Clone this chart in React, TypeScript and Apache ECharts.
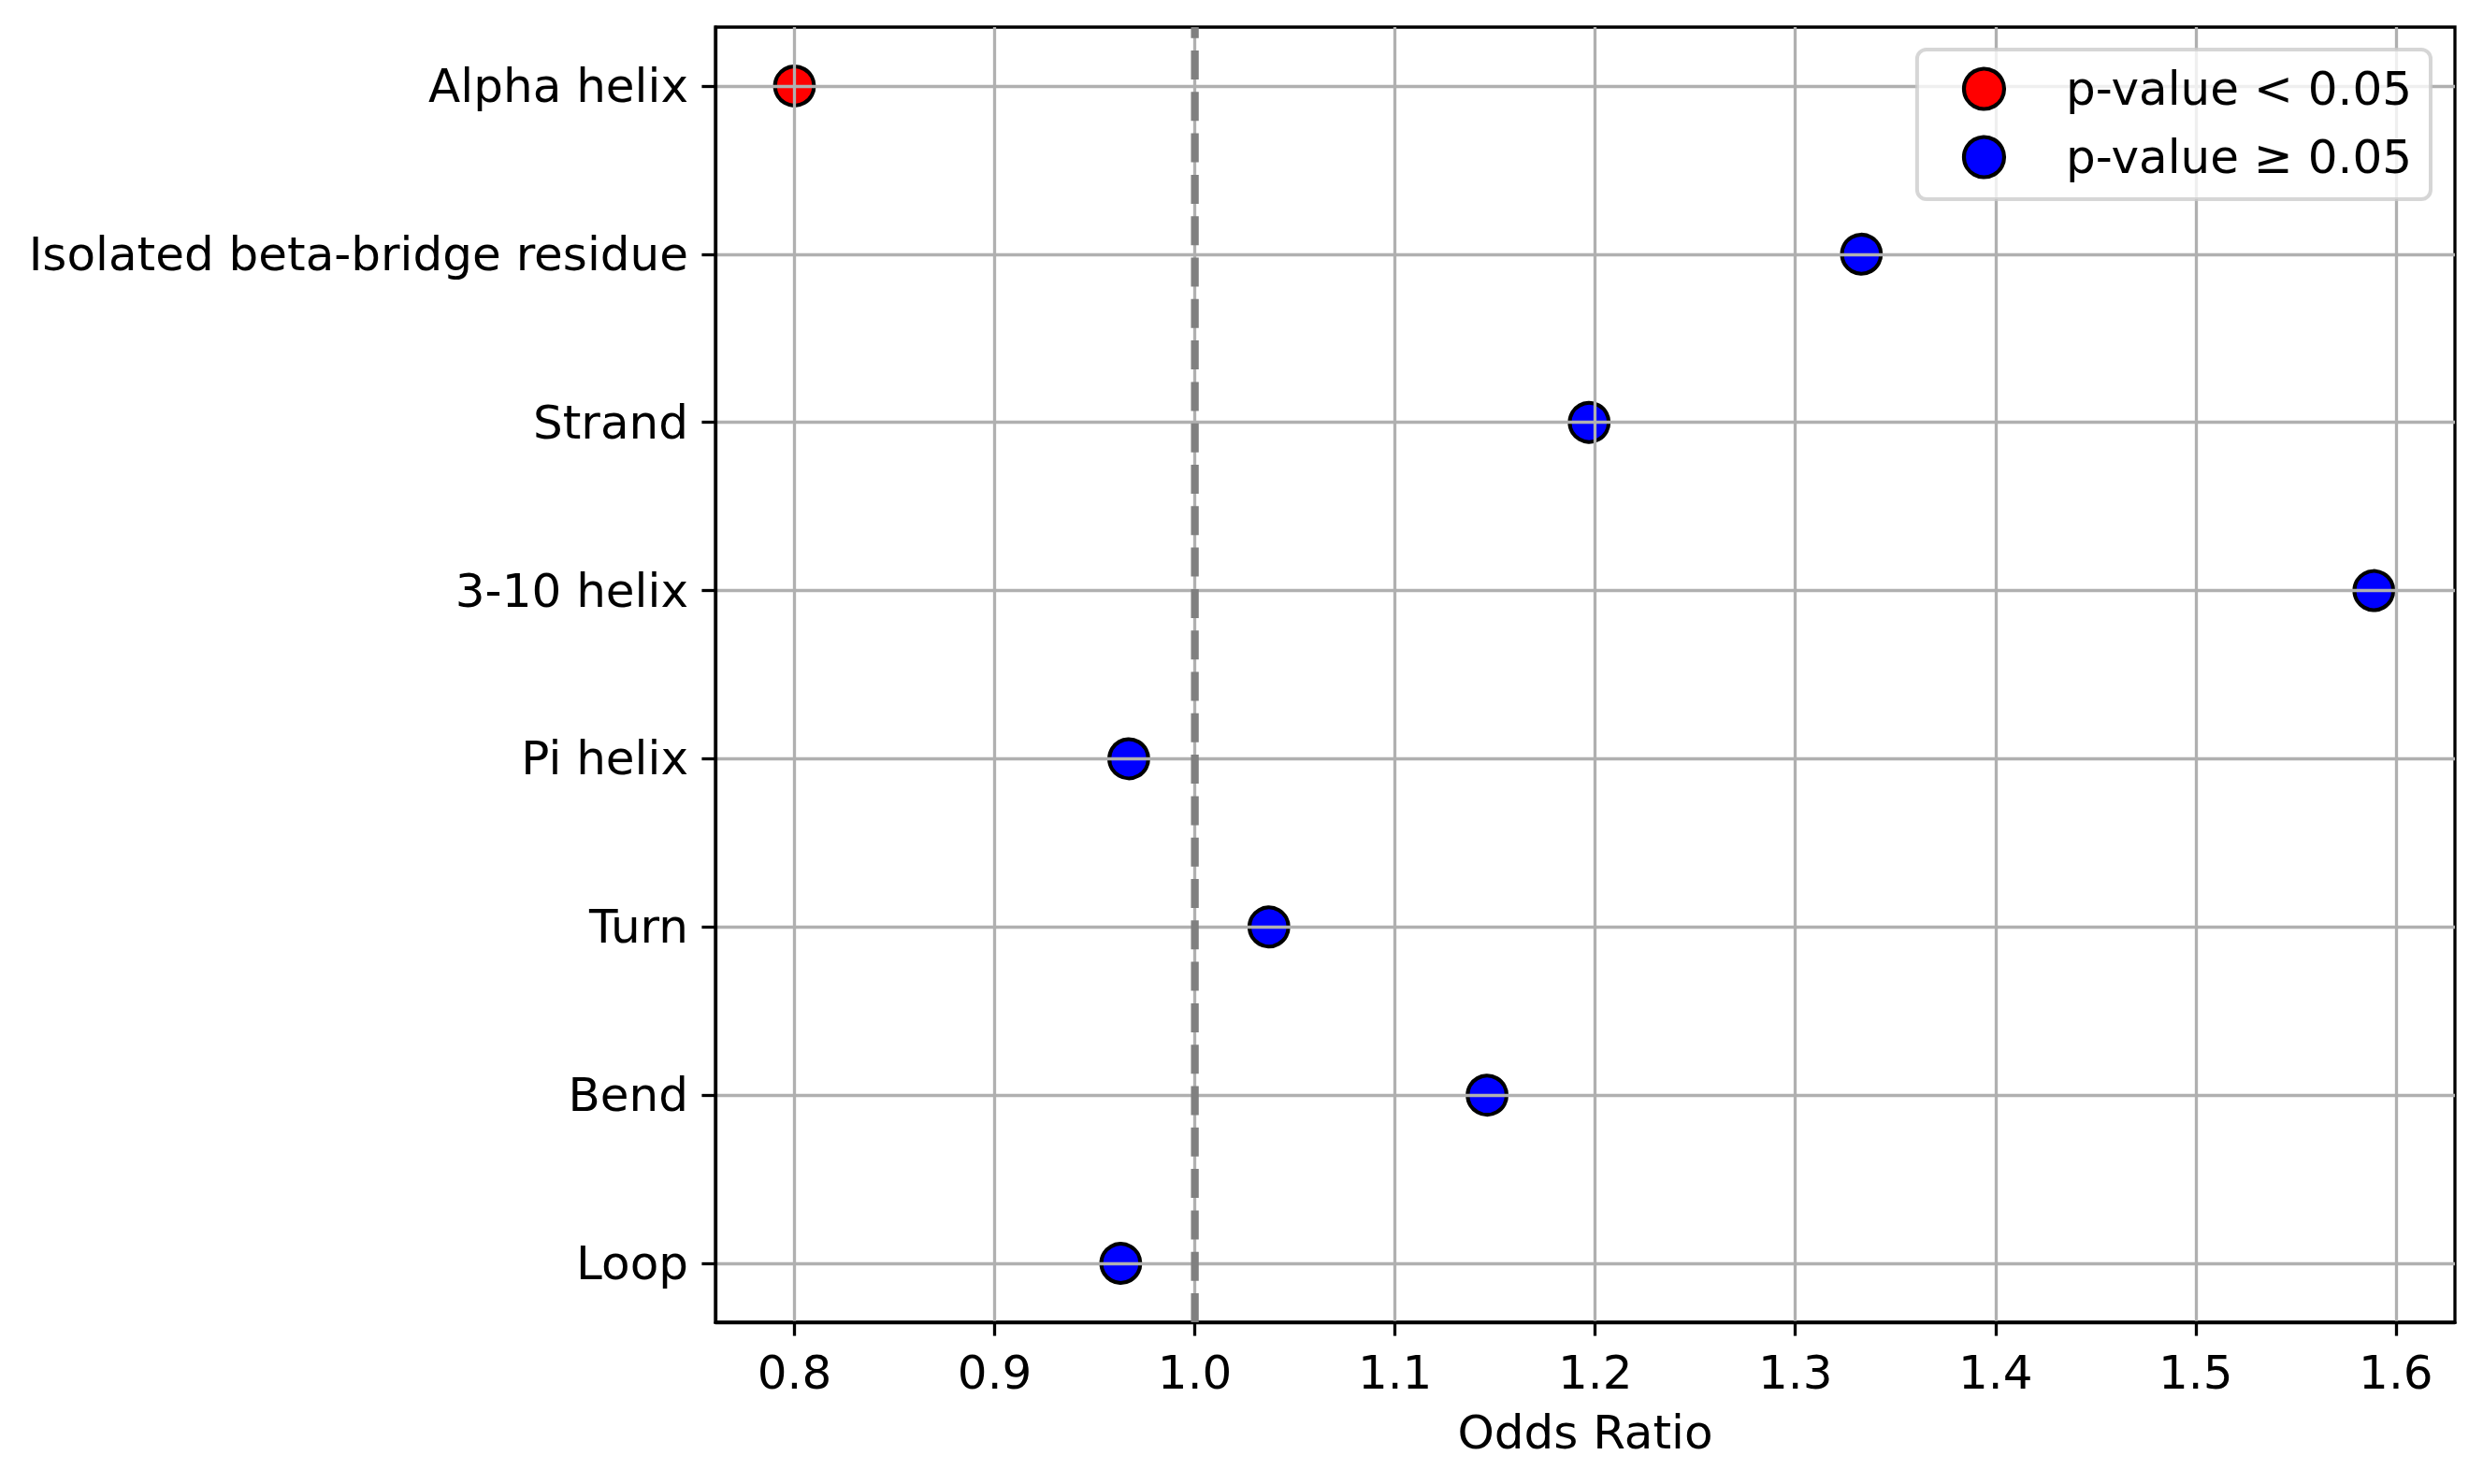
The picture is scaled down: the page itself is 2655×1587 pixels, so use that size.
import React, { useEffect, useRef } from "react";
import * as echarts from "echarts";

const categories = [
  "Alpha helix",
  "Isolated beta-bridge residue",
  "Strand",
  "3-10 helix",
  "Pi helix",
  "Turn",
  "Bend",
  "Loop",
];
const oddsRatios = [0.8, 1.333, 1.197, 1.589, 0.967, 1.037, 1.146, 0.963];
const significant = [true, false, false, false, false, false, false, false];

const xTicks = [0.8, 0.9, 1.0, 1.1, 1.2, 1.3, 1.4, 1.5, 1.6];
const yTicks = categories.map((_, i) => i);

const REF_LINE = 1.0;
const X_MIN = 0.7605;
const X_MAX = 1.6295;
const Y_MIN = -0.35;
const Y_MAX = 7.35;

const SIG_NAME = "p-value < 0.05";
const NONSIG_NAME = "p-value \u2265 0.05";

const FONT = "DejaVu Sans";
const FS = 50;

export default function App() {
  const ref = useRef<HTMLDivElement>(null);

  useEffect(() => {
    if (!ref.current) return;
    const chart = echarts.init(ref.current, null, { renderer: "svg" });

    const sigData: number[][] = [];
    const nonSigData: number[][] = [];
    oddsRatios.forEach((v, i) => {
      (significant[i] ? sigData : nonSigData).push([v, i]);
    });

    const markerStyle = (color: string) => ({
      color,
      borderColor: "#000",
      borderWidth: 4.2,
      opacity: 1,
    });

    const option: any = {
      animation: false,
      backgroundColor: "#fff",
      textStyle: { fontFamily: FONT },
      grid: {
        left: 765,
        top: 29,
        right: 30,
        bottom: 173,
        show: true,
        borderColor: "#000",
        borderWidth: 3.3,
        backgroundColor: "transparent",
      },
      legend: {
        data: [SIG_NAME, NONSIG_NAME],
        orient: "vertical",
        right: 56,
        top: 53,
        icon: "circle",
        itemWidth: 43,
        itemHeight: 43,
        itemGap: 23,
        padding: [17, 20, 20, 48],
        backgroundColor: "rgba(255,255,255,0.8)",
        borderColor: "rgba(204,204,204,0.8)",
        borderWidth: 4,
        borderRadius: 10,
        itemStyle: { borderColor: "#000", borderWidth: 4.2 },
        textStyle: {
          fontFamily: FONT,
          fontSize: FS,
          color: "#000",
          lineHeight: 50,
          padding: [0, 0, 0, 61],
        },
      },
      xAxis: {
        type: "value",
        min: X_MIN,
        max: X_MAX,
        z: 3,
        name: "Odds Ratio",
        nameLocation: "middle",
        nameGap: 93,
        nameTextStyle: { fontFamily: FONT, fontSize: FS, color: "#000" },
        axisLine: { show: true, onZero: false, lineStyle: { color: "#000", width: 3.3 } },
        axisTick: {
          show: true,
          length: 14.6,
          customValues: xTicks,
          lineStyle: { color: "#000", width: 3.3 },
        },
        axisLabel: {
          customValues: xTicks,
          margin: 29,
          fontFamily: FONT,
          fontSize: FS,
          color: "#000",
          formatter: (v: number) => v.toFixed(1),
        },
        splitLine: { show: true, lineStyle: { color: "#b0b0b0", width: 3.3 } },
      },
      yAxis: {
        type: "value",
        min: Y_MIN,
        max: Y_MAX,
        inverse: true,
        z: 3,
        axisLine: { show: true, onZero: false, lineStyle: { color: "#000", width: 3.3 } },
        axisTick: {
          show: true,
          length: 14.6,
          customValues: yTicks,
          lineStyle: { color: "#000", width: 3.3 },
        },
        axisLabel: {
          customValues: yTicks,
          margin: 29,
          fontFamily: FONT,
          fontSize: FS,
          color: "#000",
          padding: [7, 0, 0, 0],
          formatter: (v: number) => categories[Math.round(v)] ?? "",
        },
        splitLine: { show: true, lineStyle: { color: "#b0b0b0", width: 3.3 } },
      },
      series: [
        {
          name: SIG_NAME,
          type: "scatter",
          z: 2,
          symbol: "circle",
          symbolSize: 41.7,
          itemStyle: markerStyle("#ff0000"),
          data: sigData,
        },
        {
          name: NONSIG_NAME,
          type: "scatter",
          z: 2,
          symbol: "circle",
          symbolSize: 41.7,
          itemStyle: markerStyle("#0000ff"),
          data: nonSigData,
        },
        {
          name: "ref",
          type: "line",
          z: 5,
          silent: true,
          symbol: "none",
          clip: false,
          lineStyle: { color: "#808080", width: 8.3, type: [31, 13.3] },
          data: [
            [REF_LINE, Y_MAX],
            [REF_LINE, Y_MIN],
          ],
        },
      ],
    };

    chart.setOption(option);
    return () => chart.dispose();
  }, []);

  return (
    <div
      ref={ref}
      style={{
        position: "fixed",
        left: 0,
        top: 0,
        width: 2655,
        height: 1587,
        background: "#fff",
      }}
    />
  );
}
